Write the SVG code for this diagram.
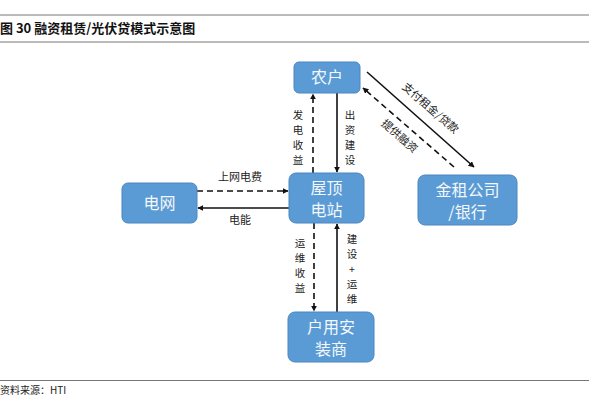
<svg xmlns="http://www.w3.org/2000/svg" width="589" height="404" viewBox="0 0 589 404">
<style>
.node rect{fill:#5B9BD5;stroke:#4A86C0;stroke-width:1}
.node text{fill:#F4F8FC;font-family:"Noto Sans CJK SC","Noto Sans",sans-serif;font-size:16px;text-anchor:middle}
.lbl{fill:#222;font-family:"Noto Sans CJK SC","Noto Sans",sans-serif;font-size:11px;text-anchor:middle}
.vs{font-size:10.5px}
.c{stroke:#111;stroke-width:1.6;fill:none}
.d{stroke-dasharray:6,4}
.rule{stroke:#777;stroke-width:1}
</style>
<defs>
<marker id="ah" viewBox="0 0 10 10" refX="9" refY="5" markerWidth="6" markerHeight="6" orient="auto" markerUnits="userSpaceOnUse">
<path d="M0,0 L10,5 L0,10 z" fill="#111"/>
</marker>
</defs>
<line class="rule" x1="0" y1="15" x2="589" y2="15"/>
<line class="rule" x1="0" y1="42" x2="589" y2="42"/>
<line class="rule" x1="0" y1="380.5" x2="589" y2="380.5"/>
<text x="0" y="33" font-family="'Noto Sans CJK SC','Noto Sans',sans-serif" font-size="13" font-weight="bold" fill="#111">图 30 融资租赁/光伏贷模式示意图</text>
<text x="0" y="394" font-family="'Noto Sans CJK SC','Liberation Sans',sans-serif" font-size="10" fill="#222">资料来源：HTI</text>

<g id="connectors">
<line class="c d" x1="313" y1="173" x2="313" y2="94" marker-end="url(#ah)"/>
<line class="c" x1="337" y1="93" x2="337" y2="172" marker-end="url(#ah)"/>
<line class="c" x1="367" y1="72" x2="474" y2="167" marker-end="url(#ah)"/>
<line class="c d" x1="454" y1="167" x2="363" y2="88" marker-end="url(#ah)"/>
<line class="c d" x1="197" y1="191" x2="288" y2="191" marker-end="url(#ah)"/>
<line class="c" x1="289" y1="208" x2="198" y2="208" marker-end="url(#ah)"/>
<line class="c d" x1="314" y1="223" x2="314" y2="311" marker-end="url(#ah)"/>
<line class="c" x1="337" y1="312" x2="337" y2="224" marker-end="url(#ah)"/>
<text class="lbl vs" x="298" y="119">发</text>
<text class="lbl vs" x="298" y="134">电</text>
<text class="lbl vs" x="298" y="149">收</text>
<text class="lbl vs" x="298" y="164">益</text>
<text class="lbl vs" x="350" y="119">出</text>
<text class="lbl vs" x="350" y="134">资</text>
<text class="lbl vs" x="350" y="149">建</text>
<text class="lbl vs" x="350" y="164">设</text>
<text class="lbl vs" x="300" y="247">运</text>
<text class="lbl vs" x="300" y="262">维</text>
<text class="lbl vs" x="300" y="277">收</text>
<text class="lbl vs" x="300" y="292">益</text>
<text class="lbl vs" x="352" y="243">建</text>
<text class="lbl vs" x="352" y="258">设</text>
<text class="lbl vs" x="352" y="273">+</text>
<text class="lbl vs" x="352" y="288">运</text>
<text class="lbl vs" x="352" y="303">维</text>
<text class="lbl" x="240" y="181">上网电费</text>
<text class="lbl" x="240" y="224">电能</text>
<text class="lbl" x="0" y="0" transform="translate(428,111) rotate(41)">支付租金/贷款</text>
<text class="lbl" x="0" y="0" transform="translate(397,139) rotate(41)">提供融资</text>
</g>

<g id="node-nonghu" class="node">
<rect x="294" y="62" width="66" height="31" rx="5"/>
<text x="327" y="83">农户</text>
</g>
<g id="node-dianwang" class="node">
<rect x="122" y="183" width="75" height="40" rx="6"/>
<text x="159.5" y="209">电网</text>
</g>
<g id="node-wuding" class="node">
<rect x="289" y="173" width="75" height="50" rx="7"/>
<text x="326.5" y="194">屋顶</text>
<text x="326.5" y="216">电站</text>
</g>
<g id="node-anzhuang" class="node">
<rect x="288" y="312" width="86" height="50" rx="7"/>
<text x="331" y="333">户用安</text>
<text x="331" y="355">装商</text>
</g>
<g id="node-jinzu" class="node">
<rect x="418" y="175" width="99" height="50" rx="7"/>
<text x="467.5" y="196">金租公司</text>
<text x="467.5" y="218">/银行</text>
</g>
</svg>
